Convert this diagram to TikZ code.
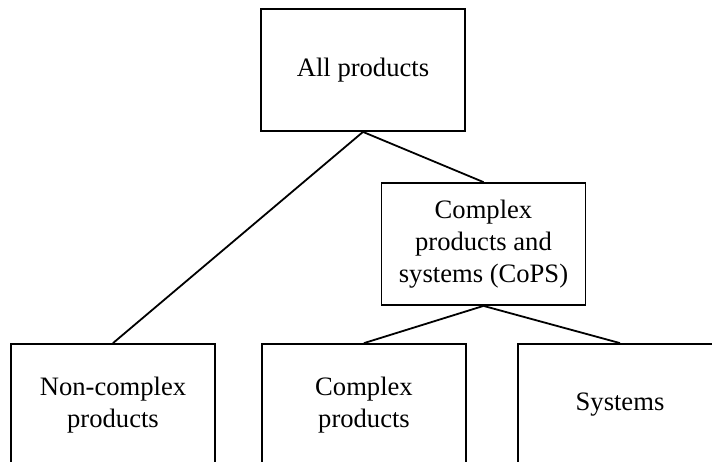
\documentclass[tikz,border=0pt]{standalone}
\usepackage{fontspec}
\setmainfont{Liberation Serif}
\usetikzlibrary{positioning}

\begin{document}
\begin{tikzpicture}[x=0.5pt,y=-0.5pt,line width=0.9pt]
          \useasboundingbox (0,0) rectangle (712,461);
          \clip (0,0) rectangle (712,461);
          \begin{scope}[every node/.style={rectangle,draw,minimum width=102pt,minimum height=61pt,inner sep=0pt,align=center,font=\fontsize{13.3}{16}\selectfont}]
            \node (all) at (363,70) {All products};
            \node (cops) at (483.5,244) {Complex\\products and\\systems (CoPS)};
            \node (noncx) at (113,405) {Non-complex\\products};
            \node (cxprod) at (364,405) {Complex\\products};
            \node (sys) at (620,405) {Systems};
          \end{scope}

          \path (all.south) edge (noncx.north) edge (cops.north);
          \path (cops.south) edge (cxprod.north) edge (sys.north);
        \end{tikzpicture}
\end{document}
